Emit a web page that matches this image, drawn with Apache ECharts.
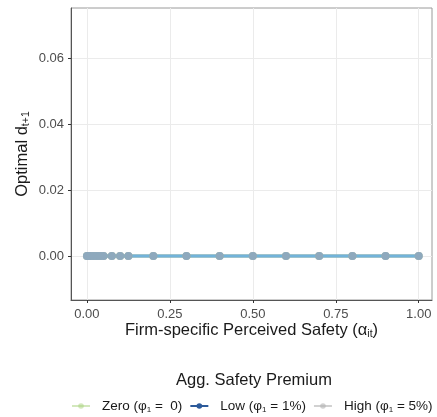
<!DOCTYPE html>
<html>
<head>
<meta charset="utf-8">
<script src="https://cdn.jsdelivr.net/npm/echarts@6/dist/echarts.min.js"></script>
<style>
  html, body { margin: 0; padding: 0; background: #fff; }
  #chart { width: 437px; height: 417px; }
</style>
</head>
<body>
<div id="chart"></div>
<script>
// Firm-specific perceived safety grid
const alphaGrid = [0, 0.005, 0.01, 0.02, 0.03, 0.04, 0.05, 0.075, 0.1, 0.125, 0.2, 0.3, 0.4, 0.5, 0.6, 0.7, 0.8, 0.9, 1.0];
// Optimal d_{t+1} for each aggregate safety premium scenario
const dZero = [0, 0, 0, 0, 0, 0, 0, 0, 0, 0, 0, 0, 0, 0, 0, 0, 0, 0, 0];
const dLow  = [0, 0, 0, 0, 0, 0, 0, 0, 0, 0, 0, 0, 0, 0, 0, 0, 0, 0, 0];
const dHigh = [0, 0, 0, 0, 0, 0, 0, 0, 0, 0, 0, 0, 0, 0, 0, 0, 0, 0, 0];
const xTicks = [0, 0.25, 0.5, 0.75, 1.0];
const yTicks = [0, 0.02, 0.04, 0.06];

const FONT = 'Liberation Sans, Arial, sans-serif';
const pairs = ys => alphaGrid.map((x, i) => [x, ys[i]]);

const chart = echarts.init(document.getElementById('chart'), null, { renderer: 'canvas' });

function lineSeries(name, ys, lineColor, pointColor, width, opacity) {
  return {
    name: name,
    type: 'line',
    data: pairs(ys),
    symbol: 'circle',
    symbolSize: 8,
    showSymbol: true,
    lineStyle: { color: lineColor, width: width, opacity: opacity },
    itemStyle: { color: pointColor, opacity: opacity },
    emphasis: { disabled: true },
    animation: false,
    z: 3
  };
}

const titleRich = {
  a: { fontFamily: FONT, fontSize: 16.5, color: '#1a1a1a', lineHeight: 20 },
  s: { fontFamily: FONT, fontSize: 10.5, color: '#1a1a1a', lineHeight: 20, verticalAlign: 'bottom', padding: [9, 0, 0, 0] }
};

chart.setOption({
  backgroundColor: '#ffffff',
  animation: false,
  grid: {
    left: 71, right: 5, top: 8, bottom: 117,
    show: true, borderColor: '#9a9a9a', borderWidth: 1, backgroundColor: '#ffffff'
  },
  xAxis: {
    type: 'value',
    min: -0.048, max: 1.04,
    name: '{a|Firm-specific Perceived Safety (α}{s|it}{a|)}',
    nameLocation: 'middle',
    nameGap: 20,
    nameMoveOverlap: false,
    nameTextStyle: { rich: titleRich },
    axisLine: { show: true, onZero: false, lineStyle: { color: '#555555', width: 1 } },
    axisTick: { show: true, length: 3, lineStyle: { color: '#333333' }, customValues: xTicks },
    axisLabel: {
      customValues: xTicks,
      formatter: v => v.toFixed(2),
      fontFamily: FONT, fontSize: 13, color: '#4d4d4d', margin: 8
    },
    splitLine: { show: true, lineStyle: { color: '#ebebeb', width: 1 } }
  },
  yAxis: {
    type: 'value',
    min: -0.0133, max: 0.0752,
    name: '{a|Optimal d}{s|t+1}',
    nameLocation: 'middle',
    nameRotate: 90,
    nameGap: 39,
    nameMoveOverlap: false,
    nameTextStyle: { rich: titleRich },
    axisLine: { show: true, onZero: false, lineStyle: { color: '#555555', width: 1 } },
    axisTick: { show: true, length: 3, lineStyle: { color: '#333333' }, customValues: yTicks },
    axisLabel: {
      customValues: yTicks,
      formatter: v => v.toFixed(2),
      fontFamily: FONT, fontSize: 13, color: '#4d4d4d', margin: 7
    },
    splitLine: { show: true, lineStyle: { color: '#ebebeb', width: 1 } }
  },
  title: {
    text: 'Agg. Safety Premium',
    left: 171,
    top: 367,
    textStyle: { fontFamily: FONT, fontSize: 16.5, fontWeight: 'normal', color: '#1a1a1a' }
  },
  legend: {
    top: 394,
    left: 66,
    width: 430,
    itemWidth: 18,
    itemHeight: 7,
    itemGap: 7,
    selectedMode: false,
    data: [
      { name: 'Zero', itemStyle: { color: '#a8d27c' }, lineStyle: { color: '#a8d27c', width: 2 } },
      { name: 'Low', itemStyle: { color: '#2c5a9a' }, lineStyle: { color: '#2c5a9a', width: 2 } },
      { name: 'High', itemStyle: { color: '#b3b3b3' }, lineStyle: { color: '#b3b3b3', width: 2 } }
    ],
    formatter: function (name) {
      if (name === 'Zero') return '{a|Zero (φ}{s|1}{a| =  0)}';
      if (name === 'Low') return '{a|Low (φ}{s|1}{a| = 1%)}';
      return '{a|High (φ}{s|1}{a| = 5%)}';
    },
    textStyle: {
      padding: [0, 0, 0, 7],
      rich: {
        a: { fontFamily: FONT, fontSize: 13.5, color: '#1a1a1a', lineHeight: 16 },
        s: { fontFamily: FONT, fontSize: 8, color: '#1a1a1a', lineHeight: 16, verticalAlign: 'bottom', padding: [6, 0, 0, 0] }
      }
    }
  },
  series: [
    lineSeries('Zero', dZero, '#a8d27c', '#a8d27c', 3.5, 0.5),
    lineSeries('High', dHigh, '#b3b3b3', '#a0a8b0', 3.5, 0.6),
    lineSeries('Low', dLow, '#72b3da', '#8ea9bd', 3, 1)
  ]
});
</script>
</body>
</html>
